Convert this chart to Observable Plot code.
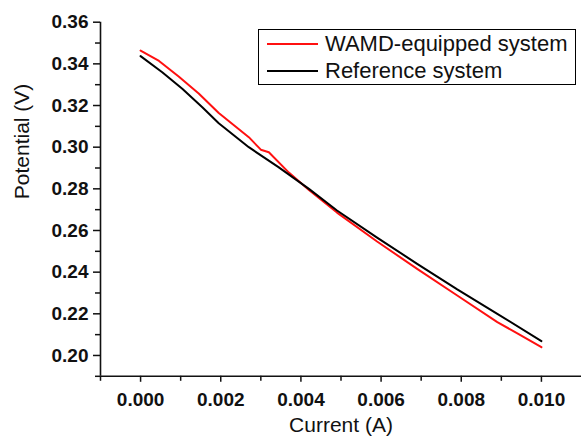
<!DOCTYPE html>
<html>
<head>
<meta charset="utf-8">
<script src="https://cdn.jsdelivr.net/npm/d3@7"></script>
<script src="https://cdn.jsdelivr.net/npm/@observablehq/plot@0.6"></script>
<style>
  html, body { margin: 0; padding: 0; background: #fff; }
  #wrap { position: relative; width: 581px; height: 443px; font-family: "Liberation Sans", Arial, sans-serif; }
  #legend { position: absolute; left: 258px; top: 29px; width: 316px; height: 54px; border: 1.5px solid #000; background: #fff; }
  .item { position: absolute; left: 0; display: flex; align-items: center; font-size: 22px; color: #111; white-space: nowrap; }
  .swatch { width: 51px; height: 0; border-top: 2px solid; margin-left: 8px; margin-right: 7px; }
</style>
</head>
<body>
<div id="wrap"></div>
<script>
// Data
const seriesNames = ["WAMD-equipped system", "Reference system"];
const seriesColors = ["#ff1010", "#000000"];

const wamdCurrent = [0, 0.00046, 0.00095, 0.00145, 0.00195, 0.0027, 0.0030, 0.0032, 0.0037, 0.0042, 0.0049, 0.0059, 0.0069, 0.0079, 0.0089, 0.0094, 0.0100];
const wamdPotential = [0.3464, 0.3414, 0.3339, 0.3258, 0.3164, 0.3048, 0.2988, 0.2976, 0.2878, 0.2794, 0.2686, 0.2547, 0.2416, 0.2288, 0.2160, 0.2106, 0.2040];

const refCurrent = [0, 0.00054, 0.00104, 0.00154, 0.00195, 0.0027, 0.00344, 0.0042, 0.0049, 0.0059, 0.0069, 0.0079, 0.0089, 0.0100];
const refPotential = [0.3437, 0.3360, 0.3280, 0.3192, 0.3115, 0.3000, 0.2904, 0.2800, 0.2696, 0.2566, 0.2440, 0.2317, 0.2200, 0.2069];

const xDomain = [-0.001, 0.011];
const yDomain = [0.19, 0.36];
const xMajorTicks = [0, 0.002, 0.004, 0.006, 0.008, 0.010];
const xMinorTicks = [-0.001, 0.001, 0.003, 0.005, 0.007, 0.009];
const yMajorTicks = [0.20, 0.22, 0.24, 0.26, 0.28, 0.30, 0.32, 0.34, 0.36];
const yMinorTicks = [0.19, 0.21, 0.23, 0.25, 0.27, 0.29, 0.31, 0.33, 0.35];
const xTitle = "Current (A)";
const yTitle = "Potential (V)";

const wamd = wamdCurrent.map((c, i) => ({I: c, V: wamdPotential[i]}));
const ref = refCurrent.map((c, i) => ({I: c, V: refPotential[i]}));

const font = '"Liberation Sans", Arial, sans-serif';

const chart = Plot.plot({
  width: 581,
  height: 443,
  marginLeft: 100,
  marginRight: 0,
  marginTop: 21.7,
  marginBottom: 67.2,
  style: {fontFamily: font, background: "#fff", color: "#111"},
  x: {domain: xDomain},
  y: {domain: yDomain},
  marks: [
    Plot.axisX(xMinorTicks, {tickSize: 5, tickFormat: () => "", label: null, strokeWidth: 1.5}),
    Plot.axisX(xMajorTicks, {tickSize: 6, tickPadding: 10, tickFormat: d3.format(".3f"), label: null, fontSize: 19, fontWeight: "bold", strokeWidth: 1.5}),
    Plot.axisY(yMinorTicks, {tickSize: 5, tickFormat: () => "", label: null, strokeWidth: 1.5}),
    Plot.axisY(yMajorTicks, {tickSize: 7, tickPadding: 5, tickFormat: d3.format(".2f"), label: null, fontSize: 19, fontWeight: "bold", strokeWidth: 1.5}),
    Plot.ruleX([xDomain[0]], {stroke: "#111", strokeWidth: 1.6}),
    Plot.ruleY([yDomain[0]], {stroke: "#111", strokeWidth: 1.6}),
    Plot.line(wamd, {x: "I", y: "V", stroke: seriesColors[0], strokeWidth: 2}),
    Plot.line(ref, {x: "I", y: "V", stroke: seriesColors[1], strokeWidth: 2}),
    Plot.text([xTitle], {frameAnchor: "bottom", dy: 56, fontSize: 21, fill: "#111"}),
    Plot.text([yTitle], {frameAnchor: "left", rotate: -90, dx: -78, fontSize: 21, fill: "#111"})
  ]
});

const wrap = document.getElementById("wrap");
wrap.appendChild(chart);

const legend = document.createElement("div");
legend.id = "legend";
seriesNames.forEach((name, i) => {
  const item = document.createElement("div");
  item.className = "item";
  item.style.top = (i === 0 ? 1 : 28) + "px";
  item.style.height = "26px";
  const sw = document.createElement("span");
  sw.className = "swatch";
  sw.style.borderTopColor = seriesColors[i];
  const tx = document.createElement("span");
  tx.textContent = name;
  item.appendChild(sw);
  item.appendChild(tx);
  legend.appendChild(item);
});
wrap.appendChild(legend);
</script>
</body>
</html>
